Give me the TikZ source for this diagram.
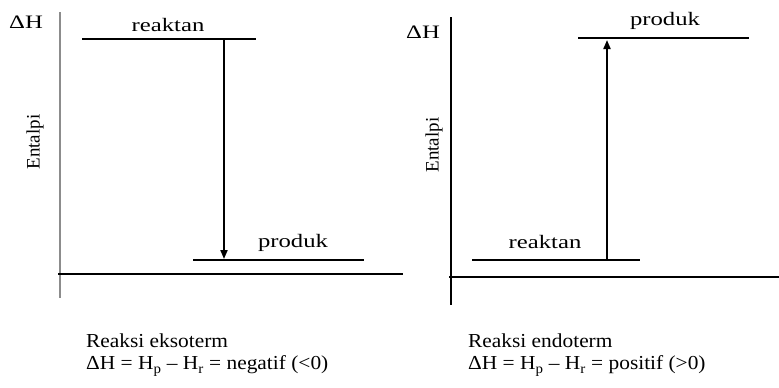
\documentclass[tikz,border=0pt]{standalone}
\usepackage{fontspec}
\setmainfont{Liberation Serif}
\newfontfamily\lblfont[FakeStretch=1.3]{Liberation Serif}
\newfontfamily\entfont{Liberation Serif}
\newfontfamily\capfont[FakeStretch=1.08]{Liberation Serif}
\usetikzlibrary{arrows.meta}
\begin{document}
\begin{tikzpicture}[x=1pt,y=-1pt,
  axisline/.style={line width=2.6pt},
  level/.style={line width=2.8pt},
  lbl/.style={inner sep=0pt,font=\lblfont\fontsize{19}{22}\selectfont},
  entlbl/.style={inner sep=0pt,rotate=90,font=\entfont\fontsize{19}{22}\selectfont},
  caption/.style={inner sep=0pt,anchor=west,font=\capfont\fontsize{19.8}{22}\selectfont},
  rise/.style={line width=1.9pt,-{Triangle[length=9pt,width=7pt]}}]
\useasboundingbox (0,0) rectangle (779,388);
% ---------- left: exothermic ----------
\draw[axisline,black!45] (60,12) -- (60,298);
\draw[axisline] (58,274) -- (403,274);
\coordinate (rL1) at (82,39);  \coordinate (rL2) at (256,39);
\coordinate (pL1) at (193,260); \coordinate (pL2) at (364,260);
\draw[level] (rL1) -- (rL2);
\draw[level] (pL1) -- (pL2);
\coordinate (aL1) at (224,40); \coordinate (aL2) at (224,259);
\draw[rise] (aL1) -- (aL2);
\node[lbl] (dHL) at (26,22) {ΔH};
\node[lbl] (reakL) at (168,25) {reaktan};
\node[lbl] (prodL) at (293,243) {produk};
\node[entlbl] (entL) at (35,142) {Entalpi};
\node[caption] (capL1) at (86,341) {Reaksi eksoterm};
\node[caption] (capL2) at (86,366) {ΔH = H\textsubscript{p} – H\textsubscript{r} = negatif (<0)};
% ---------- right: endothermic ----------
\draw[axisline] (451,17) -- (451,305);
\draw[axisline] (449,277) -- (779,277);
\coordinate (rR1) at (472,260); \coordinate (rR2) at (640,260);
\coordinate (pR1) at (578,38);  \coordinate (pR2) at (749,38);
\draw[level] (rR1) -- (rR2);
\draw[level] (pR1) -- (pR2);
\coordinate (aR1) at (607,259); \coordinate (aR2) at (607,40);
\draw[rise] (aR1) -- (aR2);
\node[lbl] (dHR) at (423,32) {ΔH};
\node[lbl] (prodR) at (665,21) {produk};
\node[lbl] (reakR) at (545,242) {reaktan};
\node[entlbl] (entR) at (434,145) {Entalpi};
\node[caption] (capR1) at (468,341) {Reaksi endoterm};
\node[caption] (capR2) at (468,366) {ΔH = H\textsubscript{p} – H\textsubscript{r} = positif (>0)};
\end{tikzpicture}
\end{document}
